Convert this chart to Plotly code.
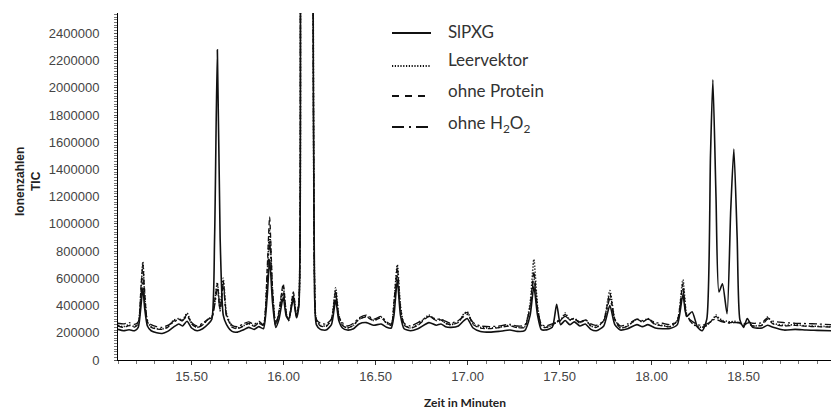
import plotly.graph_objects as go

# ---------------- data ----------------
zeit = [15.10, 15.13, 15.16, 15.19, 15.21, 15.225, 15.235, 15.245, 15.26, 15.28,
        15.31, 15.34, 15.37, 15.40, 15.43, 15.45, 15.475, 15.50, 15.53, 15.56,
        15.59, 15.61, 15.625, 15.64, 15.655, 15.672, 15.69, 15.72, 15.75, 15.78,
        15.81, 15.84, 15.865, 15.89, 15.91, 15.924, 15.94, 15.957, 15.975, 15.998,
        16.015, 16.028, 16.053, 16.07, 16.083, 16.092, 16.10, 16.15, 16.16, 16.168,
        16.178, 16.20, 16.23, 16.26, 16.283, 16.30, 16.32, 16.346, 16.38, 16.41,
        16.45, 16.49, 16.53, 16.56, 16.585, 16.60, 16.618, 16.635, 16.655, 16.69,
        16.73, 16.79, 16.83, 16.855, 16.88, 16.91, 16.95, 16.98, 16.998, 17.03,
        17.07, 17.12, 17.17, 17.23, 17.27, 17.31, 17.34, 17.36, 17.38, 17.40,
        17.42, 17.46, 17.484, 17.505, 17.53, 17.555, 17.58, 17.61, 17.64, 17.67,
        17.70, 17.74, 17.773, 17.80, 17.83, 17.87, 17.92, 17.95, 17.98, 18.02,
        18.06, 18.10, 18.14, 18.17, 18.19, 18.22, 18.25, 18.275, 18.30, 18.32,
        18.333, 18.35, 18.366, 18.385, 18.41, 18.43, 18.447, 18.465, 18.48, 18.50,
        18.52, 18.55, 18.60, 18.63, 18.66, 18.72, 18.78, 18.84, 18.90, 18.98]

# values in thousands of ion counts
slpxg = [225, 215, 222, 215, 240, 400, 530, 380, 250, 215,
         200, 195, 210, 240, 265, 250, 285, 235, 215, 230,
         265, 300, 900, 2280, 900, 330, 260, 210, 205, 220,
         240, 225, 245, 230, 450, 740, 420, 240, 300, 460,
         320, 300, 450, 310, 400, 3000, 8000, 8000, 3000, 500,
         260, 225, 220, 260, 440, 290, 235, 220, 230, 265,
         275, 255, 265, 240, 235, 330, 590, 330, 230, 215,
         230, 275, 255, 265, 245, 240, 250, 290, 305, 235,
         210, 205, 210, 220, 210, 215, 330, 540, 330, 225,
         220, 240, 410, 260, 290, 260, 280, 250, 265, 225,
         215, 250, 400, 260, 220, 230, 260, 245, 260, 235,
         230, 232, 260, 480, 320, 355, 240, 215, 300, 1500,
         2060, 1200, 500, 560, 340, 1100, 1550, 900, 295, 240,
         305, 240, 235, 255, 240, 220, 225, 220, 218, 215]

leervektor = [255, 245, 258, 245, 270, 520, 720, 480, 280, 245,
              230, 228, 245, 290, 305, 290, 345, 270, 240, 260,
              300, 320, 420, 570, 380, 600, 340, 245, 235, 250,
              270, 250, 275, 255, 600, 950, 500, 260, 350, 540,
              340, 290, 490, 320, 420, 3000, 8000, 8000, 3000, 600,
              290, 255, 250, 300, 530, 330, 260, 235, 255, 300,
              320, 290, 315, 270, 255, 420, 700, 400, 260, 235,
              260, 330, 290, 300, 270, 260, 280, 340, 355, 265,
              240, 235, 240, 255, 240, 245, 420, 740, 400, 255,
              240, 255, 280, 290, 345, 295, 305, 275, 295, 250,
              240, 290, 510, 300, 235, 250, 300, 280, 305, 265,
              255, 245, 290, 590, 340, 270, 245, 240, 255, 280,
              300, 330, 310, 290, 285, 280, 285, 280, 270, 255,
              275, 250, 260, 315, 270, 255, 260, 250, 248, 245]

ohne_protein = [250, 240, 252, 242, 265, 540, 700, 500, 280, 240,
                228, 225, 240, 285, 300, 285, 335, 265, 238, 258,
                300, 315, 430, 560, 370, 580, 330, 240, 230, 248,
                268, 248, 270, 255, 650, 1050, 520, 255, 360, 560,
                340, 290, 500, 320, 420, 3000, 8000, 8000, 3000, 600,
                290, 250, 245, 300, 510, 325, 255, 235, 255, 300,
                315, 290, 310, 270, 255, 430, 680, 390, 255, 235,
                255, 320, 290, 295, 270, 260, 275, 335, 350, 260,
                235, 230, 238, 250, 238, 240, 400, 650, 380, 250,
                238, 255, 280, 290, 335, 295, 305, 270, 295, 250,
                240, 290, 490, 300, 235, 250, 300, 280, 300, 260,
                250, 245, 290, 560, 330, 270, 245, 240, 255, 280,
                300, 320, 300, 285, 275, 275, 280, 275, 270, 255,
                270, 250, 255, 300, 265, 250, 255, 248, 245, 242]

ohne_h2o2 = [270, 265, 275, 262, 280, 470, 600, 430, 290, 260,
             245, 240, 255, 275, 300, 290, 320, 275, 250, 270,
             300, 310, 400, 520, 360, 560, 320, 255, 245, 265,
             280, 262, 285, 260, 550, 880, 480, 265, 340, 500,
             330, 295, 470, 315, 410, 3000, 8000, 8000, 3000, 600,
             300, 270, 265, 300, 480, 320, 275, 250, 270, 310,
             330, 300, 320, 280, 265, 380, 620, 370, 270, 250,
             275, 320, 300, 300, 285, 270, 290, 320, 335, 275,
             250, 245, 250, 262, 250, 255, 380, 600, 370, 265,
             250, 265, 285, 295, 320, 300, 300, 280, 295, 265,
             255, 290, 450, 300, 250, 265, 300, 290, 300, 275,
             270, 260, 290, 520, 320, 285, 260, 255, 265, 280,
             295, 300, 290, 280, 275, 270, 275, 275, 275, 265,
             280, 270, 275, 310, 285, 275, 270, 268, 265, 260]

series_names = ["SlPXG", "Leervektor", "ohne Protein", "ohne H<sub>2</sub>O<sub>2</sub>"]
y_ticks = list(range(0, 2400001, 200000))
x_ticks = [15.5, 16.0, 16.5, 17.0, 17.5, 18.0, 18.5]

# ---------------- figure ----------------
W, H = 831, 411
L, R, T, B = 118, 0, 13, 51
PW, PH = W - L - R, H - T - B


def px(xp):
    return (xp - L) / PW


def py(yp):
    return (H - B - yp) / PH


styles = [
    dict(dash="solid", width=1.6),
    dict(dash="1.2px,1.8px", width=1.6),
    dict(dash="5px,3px", width=1.3),
    dict(dash="8px,3px,2px,3px", width=1.3),
]
legend_dash = ["solid", "1.2px,1.6px", "7px,6px", "12px,5px,2px,5px"]
all_series = [slpxg, leervektor, ohne_protein, ohne_h2o2]

fig = go.Figure()
# draw in reverse so the solid trace is on top
for name, vals, st in reversed(list(zip(series_names, all_series, styles))):
    fig.add_trace(go.Scatter(
        x=zeit, y=[v * 1000 for v in vals], mode="lines", name=name,
        line=dict(color="#111111", width=st["width"], dash=st["dash"],
                  shape="spline", smoothing=0.6),
        showlegend=False, hoverinfo="skip"))

fig.update_layout(
    width=W, height=H, margin=dict(l=L, r=R, t=T, b=B),
    paper_bgcolor="white", plot_bgcolor="white", showlegend=False,
    font=dict(family="Liberation Sans, Arial, sans-serif", color="#444444"),
)
fig.update_xaxes(
    range=[15.10, 18.975], tickvals=x_ticks,
    ticktext=[f"{v:.2f}" for v in x_ticks],
    showgrid=False, zeroline=False, showline=True, linecolor="black", linewidth=1,
    ticks="outside", ticklen=4, tickcolor="#333", tickfont=dict(size=13, color="#444"),
    minor=dict(dtick=0.1, tick0=15.0, ticks="outside", ticklen=3, tickcolor="#777", showgrid=False),
)
fig.update_yaxes(
    range=[0, 2550000], tickvals=y_ticks, ticktext=[str(v) for v in y_ticks],
    showgrid=False, zeroline=False, showline=True, linecolor="black", linewidth=1,
    ticks="outside", ticklen=3, tickcolor="#555", tickfont=dict(size=13, color="#444"),
    ticklabelstandoff=12,
    minor=dict(dtick=20000, tick0=0, ticks="outside", ticklen=3, tickcolor="#777", showgrid=False),
)

# axis titles
fig.add_annotation(text="<b>Ionenzahlen</b><br><b>TIC</b>", xref="paper", yref="paper",
                   x=px(28), y=py(182), textangle=-90, showarrow=False,
                   font=dict(size=12, color="#222", family="Liberation Sans, Arial"),
                   xanchor="center", yanchor="middle")
fig.add_annotation(text="<b>Zeit in Minuten</b>", xref="paper", yref="paper",
                   x=px(465), y=py(411), showarrow=False,
                   font=dict(size=12, color="#222", family="Lato, sans-serif"),
                   xanchor="center", yanchor="bottom", borderpad=0)

# legend (drawn manually to match the original placement)
leg_text_y = [32, 59, 91, 124]
leg_line_y = [33, 66, 96, 127]
for name, dsh, ty, ly in zip(series_names, legend_dash, leg_text_y, leg_line_y):
    fig.add_shape(type="line", xref="paper", yref="paper",
                  x0=px(392), x1=px(431), y0=py(ly), y1=py(ly),
                  line=dict(color="#111", width=2, dash=dsh))
    fig.add_annotation(text=name, xref="paper", yref="paper", x=px(446), y=py(ty),
                       showarrow=False, xanchor="left", yanchor="middle",
                       font=dict(size=17, color="#333", family="Lato, sans-serif"))

fig.write_html("out.html", config={"displayModeBar": False},
               post_script="document.body.style.margin='0';document.body.style.padding='0';")
